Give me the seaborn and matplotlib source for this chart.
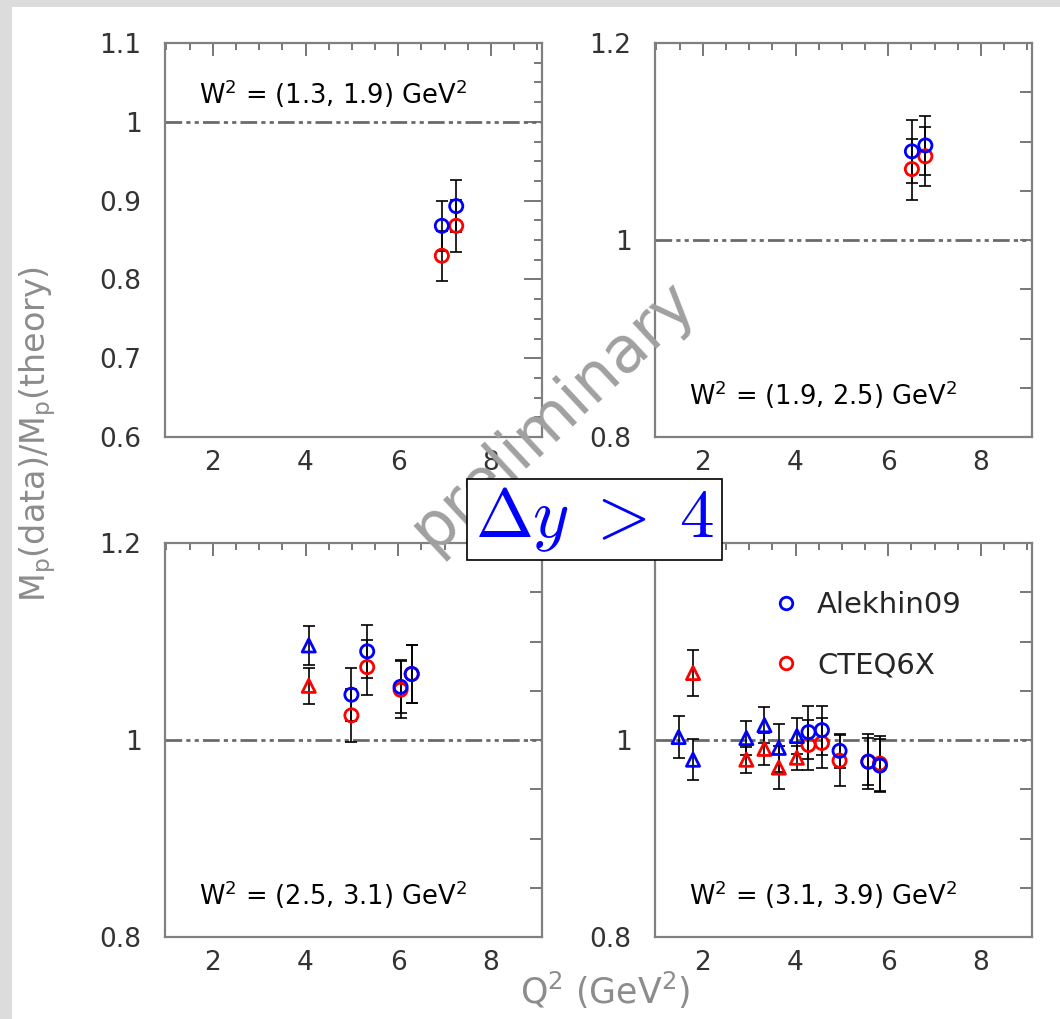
import numpy as np
import pandas as pd
import seaborn as sns
import matplotlib
matplotlib.use("Agg")
import matplotlib.pyplot as plt
from matplotlib.ticker import MultipleLocator, FormatStrFormatter
from matplotlib.patches import Rectangle
from matplotlib.lines import Line2D

# values
w2_bins = ["(1.3, 1.9)", "(1.9, 2.5)", "(2.5, 3.1)", "(3.1, 3.9)"]

p1_q2 = [6.94, 7.25]
p1_shape = ["o", "o"]
p1_alekhin = [0.868, 0.893]
p1_alekhin_err = [0.032, 0.033]
p1_cteq = [0.830, 0.868]
p1_cteq_err = [0.032, 0.033]

p2_q2 = [6.51, 6.80]
p2_shape = ["o", "o"]
p2_alekhin = [1.090, 1.096]
p2_alekhin_err = [0.032, 0.030]
p2_cteq = [1.072, 1.085]
p2_cteq_err = [0.031, 0.030]

p3_q2 = [4.07, 4.99, 5.33, 6.05, 6.29]
p3_shape = ["^", "o", "o", "o", "o"]
p3_alekhin = [1.096, 1.046, 1.090, 1.054, 1.067]
p3_alekhin_err = [0.020, 0.027, 0.027, 0.027, 0.029]
p3_cteq = [1.055, 1.025, 1.074, 1.051, 1.067]
p3_cteq_err = [0.018, 0.027, 0.028, 0.029, 0.029]

p4_q2 = [1.48, 1.79, 2.94, 3.33, 3.64, 4.03, 4.28, 4.57, 4.95, 5.57, 5.82]
p4_shape = ["^", "^", "^", "^", "^", "^", "o", "o", "o", "o", "o"]
p4_alekhin = [1.003, 0.980, 1.002, 1.015, 0.992, 1.004, 1.008, 1.010, 0.989, 0.978, 0.974]
p4_alekhin_err = [0.021, 0.021, 0.017, 0.018, 0.024, 0.018, 0.027, 0.025, 0.017, 0.024, 0.027]
p4_cteq = [np.nan, 1.068, 0.980, 0.991, 0.972, 0.982, 0.995, 0.997, 0.979, 0.978, 0.976]
p4_cteq_err = [np.nan, 0.023, 0.013, 0.016, 0.022, 0.012, 0.025, 0.025, 0.026, 0.028, 0.028]

W, H = 1060, 1019
sns.set_style("white")
plt.rcParams["font.family"] = ["DejaVu Sans"]

BLUE = "#0000ff"
RED = "#ff0000"


def scatter_open(ax, q2, shape, vals, color):
    df = pd.DataFrame({"q2": q2, "ratio": vals, "shape": shape}).dropna()
    n0 = len(ax.collections)
    sns.scatterplot(data=df, x="q2", y="ratio", style="shape",
                    markers={"o": "o", "^": "^"}, color=color, s=90,
                    legend=False, ax=ax, zorder=4)
    for coll in ax.collections[n0:]:
        coll.set_facecolor("none")
        coll.set_edgecolor(color)
        coll.set_linewidth(2.0)


def draw_panel(ax, q2, shape, alek, alek_err, cteq, cteq_err, ylim, label, label_y, small_ticks):
    ax.axhline(1.0, color="#6a6a6a", lw=2.0, ls=(0, (6, 1.5, 1.5, 1.5, 1.5, 1.5)), zorder=1)
    for vals, errs in ((cteq, cteq_err), (alek, alek_err)):
        ax.errorbar(q2, vals, yerr=errs, fmt="none", ecolor="black", elinewidth=1.2,
                    capsize=4.5, capthick=1.2, zorder=2)
    scatter_open(ax, q2, shape, cteq, RED)
    scatter_open(ax, q2, shape, alek, BLUE)

    ax.set_xlim(0.97, 9.1)
    ax.set_ylim(*ylim)
    ax.xaxis.set_major_locator(MultipleLocator(2))
    ax.xaxis.set_minor_locator(MultipleLocator(0.5))
    if small_ticks:
        ax.yaxis.set_major_locator(MultipleLocator(0.1))
        ax.yaxis.set_minor_locator(MultipleLocator(0.025))
        ax.tick_params(axis="y", which="major", length=13)
        ax.tick_params(axis="y", which="minor", length=6)
    else:
        ax.yaxis.set_major_locator(MultipleLocator(0.2))
        ax.yaxis.set_minor_locator(MultipleLocator(0.05))
        ax.tick_params(axis="y", which="both", length=9)
    ax.yaxis.set_major_formatter(FormatStrFormatter("%g"))
    ax.tick_params(axis="x", which="major", length=9)
    ax.tick_params(axis="x", which="minor", length=5)
    ax.tick_params(which="both", direction="in", top=True, right=True,
                   color="#606060", width=1.2)
    ax.tick_params(axis="y", which="major", pad=17, labelsize=19, labelcolor="#333333")
    ax.tick_params(axis="x", which="major", pad=9, labelsize=19, labelcolor="#333333")
    for sp in ax.spines.values():
        sp.set_color("#808080")
        sp.set_linewidth(1.6)
    ax.set_xlabel("")
    ax.set_ylabel("")
    ax.text(0.09, label_y, "W$^2$ = " + label + " GeV$^2$", transform=ax.transAxes,
            fontsize=18.5, color="black", va="center", ha="left")


fig = plt.figure(figsize=(W / 100, H / 100), dpi=100)
fig.patch.set_facecolor("#dcdcdc")
fig.add_artist(Rectangle((12 / W, 0), 1 - 12 / W, 1 - 7 / H, transform=fig.transFigure,
                         fc="white", ec="none", zorder=-10))

aw, ah = 377 / W, 394 / H
ax1 = fig.add_axes([165 / W, 1 - 437 / H, aw, ah])
ax2 = fig.add_axes([655 / W, 1 - 437 / H, aw, ah])
ax3 = fig.add_axes([165 / W, 1 - 937 / H, aw, ah])
ax4 = fig.add_axes([655 / W, 1 - 937 / H, aw, ah])

draw_panel(ax1, p1_q2, p1_shape, p1_alekhin, p1_alekhin_err, p1_cteq, p1_cteq_err,
           (0.6, 1.1), w2_bins[0], 0.87, True)
draw_panel(ax2, p2_q2, p2_shape, p2_alekhin, p2_alekhin_err, p2_cteq, p2_cteq_err,
           (0.8, 1.2), w2_bins[1], 0.108, False)
draw_panel(ax3, p3_q2, p3_shape, p3_alekhin, p3_alekhin_err, p3_cteq, p3_cteq_err,
           (0.8, 1.2), w2_bins[2], 0.107, False)
draw_panel(ax4, p4_q2, p4_shape, p4_alekhin, p4_alekhin_err, p4_cteq, p4_cteq_err,
           (0.8, 1.2), w2_bins[3], 0.107, False)

# the top label of the last panel sits under the cut box in the reference
ax4.yaxis.set_major_formatter(FormatStrFormatter("%g"))
fig.canvas.draw()
for lab in ax4.get_yticklabels():
    if lab.get_text() == "1.2":
        lab.set_visible(False)

handles = [Line2D([], [], marker="o", ls="none", mfc="none", mec=BLUE, mew=2.0, ms=9),
           Line2D([], [], marker="o", ls="none", mfc="none", mec=RED, mew=2.0, ms=9)]
ax4.legend(handles, ["Alekhin09", "CTEQ6X"], loc="upper left", bbox_to_anchor=(0.31, 0.878),
           frameon=False, fontsize=21, handlelength=1, handletextpad=0.55,
           labelspacing=1.1, borderpad=0, borderaxespad=0)

# axis titles
fig.text(38 / W, 1 - 434 / H, "M$_\\mathregular{p}$(data)/M$_\\mathregular{p}$(theory)",
         rotation=90, fontsize=24, color="#8c8c8c", ha="center", va="center")
fig.text(605 / W, 1 - 990 / H, "Q$^2$ (GeV$^2$)", fontsize=25, color="#8c8c8c",
         ha="center", va="center")

# watermark
fig.text(553 / W, 1 - 415 / H, "preliminary", rotation=43, rotation_mode="anchor",
         fontsize=46, color="#a0a0a0", ha="center", va="center", zorder=5)

# cut label box
fig.add_artist(Rectangle((467 / W, 1 - 560 / H), 255 / W, 81 / H, transform=fig.transFigure,
                         fc="white", ec="black", lw=1.2, zorder=6))
fig.text(594 / W, 1 - 520 / H, r"$\Delta y \;>\; 4$", fontsize=50, color=BLUE,
         math_fontfamily="cm", ha="center", va="center", zorder=7)

fig.savefig("out.png", dpi=100, facecolor=fig.get_facecolor())
